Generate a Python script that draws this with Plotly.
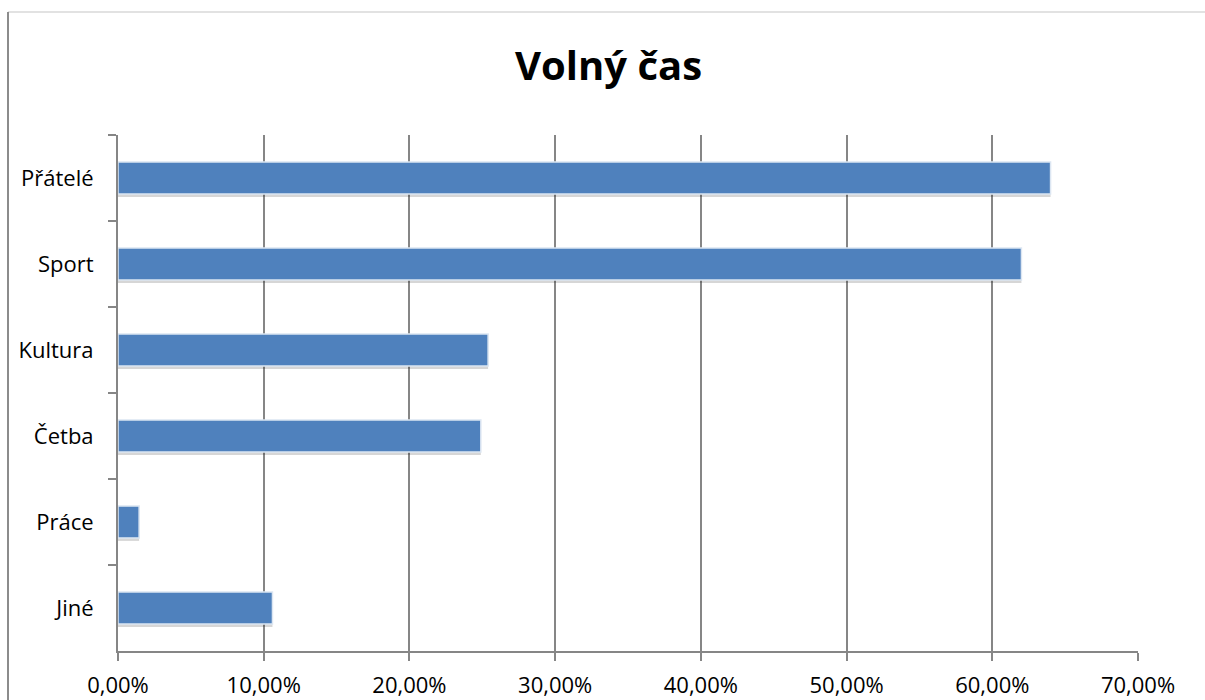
import plotly.graph_objects as go

categories = ["Přátelé", "Sport", "Kultura", "Četba", "Práce", "Jiné"]
values = [0.64, 0.62, 0.254, 0.249, 0.0145, 0.106]
x_ticks = [0, 0.1, 0.2, 0.3, 0.4, 0.5, 0.6, 0.7]

FONT = "Open Sans"
AX = "#868686"

fig = go.Figure()
# soft shadow
fig.add_trace(go.Bar(
    y=categories, x=values, orientation="h",
    marker=dict(color="rgba(0,0,0,0.16)", line=dict(width=0)),
    width=0.37, offset=-0.15, hoverinfo="skip", showlegend=False,
))
fig.add_trace(go.Bar(
    y=categories, x=values, orientation="h",
    marker=dict(color="#4F81BD", line=dict(color="#DCE6F2", width=1.5)),
    width=0.37, offset=-0.185, showlegend=False,
))

L, R, T, B = 118, 67, 135, 49
W, H = 1205, 700
pw, ph = W - L - R, H - T - B

def px(xp):
    return (xp - L) / pw

def py(yp):
    return (H - B - yp) / ph

fig.update_layout(
    width=W, height=H,
    margin=dict(l=L, r=R, t=T, b=B, pad=0, autoexpand=False),
    paper_bgcolor="white", plot_bgcolor="white",
    separators=", ",
    barmode="overlay",
    title=dict(text="<b>Volný čas</b>", x=0.505, xref="container", xanchor="center",
               y=1 - 66 / H, yanchor="middle",
               font=dict(family=FONT, size=40, color="black")),
    font=dict(family=FONT, size=22, color="black"),
    xaxis=dict(range=[0, 0.7], tickvals=x_ticks, tickformat=".2%",
               showgrid=True, gridcolor=AX, gridwidth=2,
               showline=True, linecolor=AX, linewidth=2,
               ticks="outside", ticklen=8, tickwidth=2, tickcolor=AX,
               zeroline=False, tickfont=dict(size=22), ticklabelstandoff=6,
               automargin=False),
    yaxis=dict(categoryorder="array", categoryarray=categories, autorange="reversed",
               showline=True, linecolor=AX, linewidth=2, showgrid=False,
               ticks="outside", ticklen=8, tickwidth=2, tickcolor=AX,
               tickson="boundaries", zeroline=False, tickfont=dict(size=22),
               ticklabelstandoff=18, automargin=False),
    shapes=[
        dict(type="line", xref="paper", yref="paper", x0=px(8), x1=px(1210),
             y0=py(12), y1=py(12), line=dict(color="#D9D9D9", width=1.5)),
        dict(type="line", xref="paper", yref="paper", x0=px(8), x1=px(8),
             y0=py(12), y1=py(705), line=dict(color="#8C8C8C", width=2)),
    ],
)

fig.write_html("out.html")
